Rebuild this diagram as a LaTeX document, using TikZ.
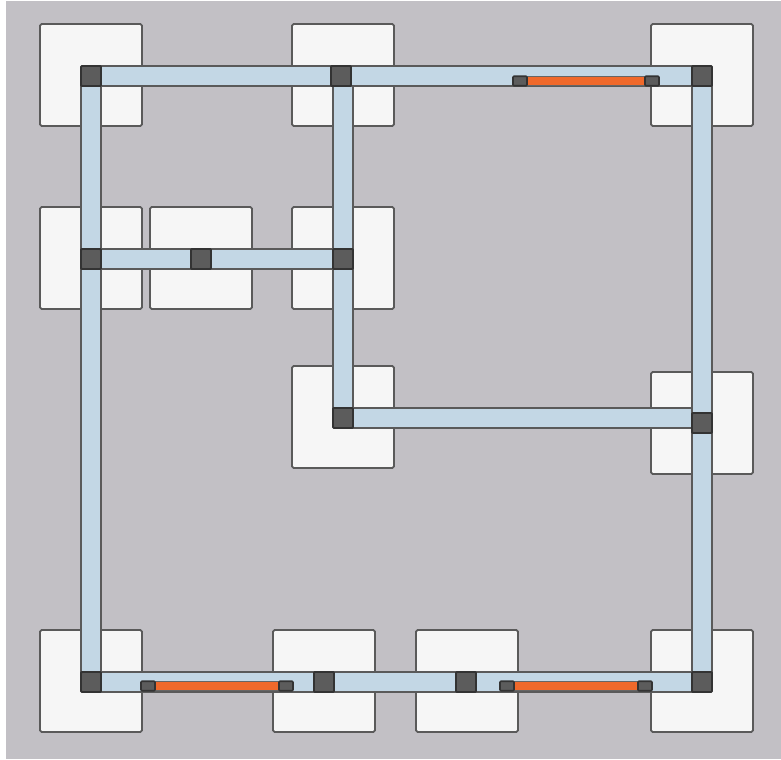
\documentclass[tikz,border=0pt]{standalone}
\usepackage{xcolor}
\definecolor{chipgray}{HTML}{C2C0C5}
\definecolor{padwhite}{HTML}{F6F6F6}
\definecolor{wireblue}{HTML}{C3D7E5}
\definecolor{viagray}{HTML}{5C5C5C}
\definecolor{edgegray}{HTML}{5A5A5A}
\definecolor{heatorange}{HTML}{F0692B}
\tikzset{
  pad/.style={draw=edgegray, fill=padwhite, line width=0.5pt, rounded corners=0.5pt, minimum size=1.02cm, inner sep=0pt, outer sep=0pt},
  via/.style={draw=black!80, fill=viagray, line width=0.55pt, rounded corners=0.3pt, minimum size=0.2cm, inner sep=0pt, outer sep=0pt},
  wire/.style={draw=edgegray, line width=0.45pt, double=wireblue, double distance=0.18cm},
  heater/.style={draw=black!60, fill=heatorange, line width=0.35pt, minimum width=1.2cm, minimum height=0.095cm, inner sep=0pt, outer sep=0pt},
  heatend/.style={draw=black!80, fill=viagray, line width=0.45pt, rounded corners=0.3pt, minimum width=0.14cm, minimum height=0.095cm, inner sep=0pt, outer sep=0pt},
}
\begin{document}
\begin{tikzpicture}[x=0.01cm,y=-0.01cm]
\useasboundingbox (0,0) rectangle (781,759);

\fill[chipgray] (6,1) rectangle (781,759);

% via positions
\coordinate (va) at (91,76);
\coordinate (vb) at (341,76);
\coordinate (vc) at (702,76);
\coordinate (vd) at (91,259);
\coordinate (ve) at (201,259);
\coordinate (vf) at (343,259);
\coordinate (vg) at (343,418);
\coordinate (vh) at (702,423);
\coordinate (vi) at (91,682);
\coordinate (vj) at (324,682);
\coordinate (vk) at (466,682);
\coordinate (vl) at (702,682);
\coordinate (top) at (343,76);
\coordinate (tap) at (702,418);

% pads
\node[pad] (pa) at (91,75) {};
\node[pad] (pb) at (343,75) {};
\node[pad] (pc) at (702,75) {};
\node[pad] (pd) at (91,258) {};
\node[pad] (pe) at (201,258) {};
\node[pad] (pf) at (343,258) {};
\node[pad] (pg) at (343,417) {};
\node[pad] (ph) at (702,423) {};
\node[pad] (pi) at (91,681) {};
\node[pad] (pj) at (324,681) {};
\node[pad] (pk) at (467,681) {};
\node[pad] (pl) at (702,681) {};

% wires
\draw[wire] (vg) -- (tap);
\draw[wire] (vd) -- (vf);
\draw[wire] (top) -- (vg);
\draw[wire] (va) -- (vc);
\draw[wire] (va) -- (vi);
\draw[wire] (vc) -- (vl);
\draw[wire] (vi) -- (vl);

% vias
\foreach \v in {va,vb,vc,vd,ve,vf,vg,vh,vi,vj,vk,vl}
  \node[via] (n\v) at (\v) {};

% heaters
\node[heater] (ha) at (586,81) {};
\node[heatend] (hal) at (520,81) {};
\node[heatend] (har) at (652,81) {};

\node[heater,minimum width=1.25cm] (hb) at (217,686) {};
\node[heatend] (hbl) at (148,686) {};
\node[heatend] (hbr) at (286,686) {};

\node[heater,minimum width=1.25cm] (hc) at (576,686) {};
\node[heatend] (hcl) at (507,686) {};
\node[heatend] (hcr) at (645,686) {};

\end{tikzpicture}
\end{document}
